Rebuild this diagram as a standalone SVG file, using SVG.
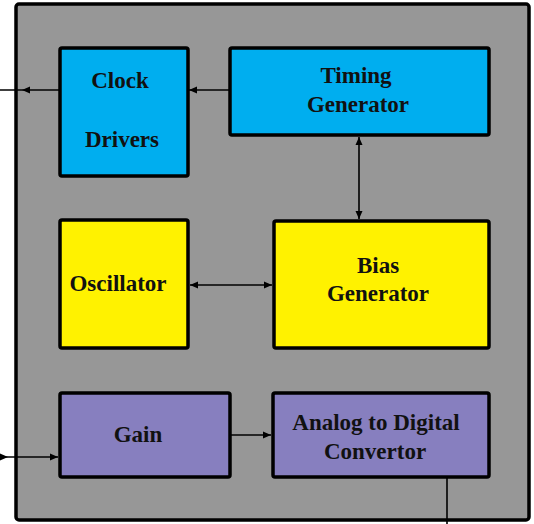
<svg xmlns="http://www.w3.org/2000/svg" width="534" height="524" viewBox="0 0 534 524">
<style>
.box{stroke:#000;stroke-width:3.5}
.cyan{fill:#00aeef}
.yel{fill:#fff200}
.pur{fill:#877fbf}
.t{font-family:"Liberation Serif","DejaVu Serif",serif;font-size:23px;font-weight:bold;fill:#111;text-anchor:middle}
.c{stroke:#000;stroke-width:1.6;fill:none}
</style>
<defs>
<marker id="ah" markerWidth="8" markerHeight="8" refX="8" refY="4" orient="auto-start-reverse" markerUnits="userSpaceOnUse">
<path d="M0,0.5 L8,4 L0,7.5 Z" fill="#000"/>
</marker>
</defs>
<rect width="534" height="524" fill="#fff"/>
<g id="chip"><rect x="16" y="4" width="513" height="516" rx="3" fill="#979797" stroke="#000" stroke-width="3.5"/></g>
<g id="connectors">
<line class="c" x1="229" y1="90" x2="189" y2="90" marker-end="url(#ah)"/>
<line class="c" x1="60" y1="90" x2="0" y2="90"/>
<path d="M30,86.5 L22,90 L30,93.5 Z" fill="#000"/>
<line class="c" x1="359" y1="137" x2="359" y2="219" marker-start="url(#ah)" marker-end="url(#ah)"/>
<line class="c" x1="190" y1="285" x2="272" y2="285" marker-start="url(#ah)" marker-end="url(#ah)"/>
<line class="c" x1="0" y1="457" x2="58" y2="457" marker-end="url(#ah)"/>
<path d="M0,453.5 L8,457 L0,460.5 Z" fill="#000"/>
<line class="c" x1="231" y1="435" x2="271" y2="435" marker-end="url(#ah)"/>
<line class="c" x1="447" y1="478" x2="447" y2="524"/>
</g>
<g id="clock-drivers">
<rect class="box cyan" x="60" y="48" width="128" height="128" rx="2"/>
<text class="t" x="120" y="88">Clock</text>
<text class="t" x="122" y="147">Drivers</text>
</g>
<g id="timing-generator">
<rect class="box cyan" x="230" y="48" width="259" height="87" rx="2"/>
<text class="t" x="356" y="83">Timing</text>
<text class="t" x="358" y="112">Generator</text>
</g>
<g id="oscillator">
<rect class="box yel" x="60" y="220" width="128" height="128" rx="2"/>
<text class="t" x="118" y="291">Oscillator</text>
</g>
<g id="bias-generator">
<rect class="box yel" x="274" y="221" width="215" height="127" rx="2"/>
<text class="t" x="378" y="273">Bias</text>
<text class="t" x="378" y="301">Generator</text>
</g>
<g id="gain">
<rect class="box pur" x="60" y="393" width="170" height="84" rx="2"/>
<text class="t" x="138" y="442">Gain</text>
</g>
<g id="adc">
<rect class="box pur" x="273" y="393" width="216" height="84" rx="2"/>
<text class="t" x="376" y="430">Analog to Digital</text>
<text class="t" x="375" y="459">Convertor</text>
</g>
</svg>
